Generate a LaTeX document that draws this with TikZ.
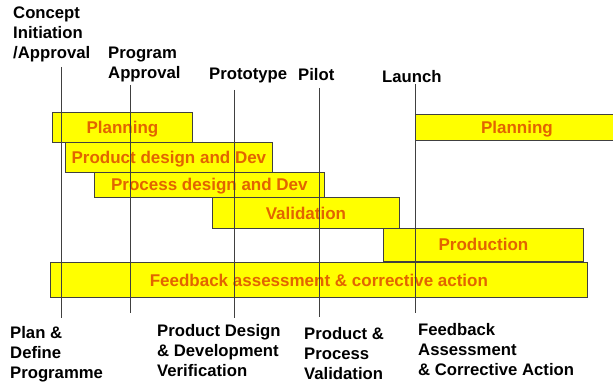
\documentclass[tikz,border=0pt]{standalone}
\usepackage{fontspec}
\setmainfont{Liberation Sans}
\definecolor{barfill}{RGB}{255,255,0}
\definecolor{bartext}{RGB}{226,100,0}
\definecolor{lineg}{RGB}{64,64,64}
\tikzset{
  phase/.style={draw=lineg, line width=0.8pt, fill=barfill, anchor=north west,
    inner sep=0pt, text=bartext, font=\fontsize{17}{20}\selectfont\bfseries,
    text height=12.2pt, text depth=0pt},
  gate/.style={anchor=base west, inner sep=0pt, align=left,
    font=\fontsize{16.7}{20}\selectfont\bfseries},
  tick/.style={draw=lineg, line width=0.8pt}
}
\begin{document}
\begin{tikzpicture}[x=1pt,y=-1pt]

	\useasboundingbox (0,0) rectangle (613,382);
	\clip (0,0) rectangle (613,382);

            % bars
            \node[phase, minimum width=140pt, minimum height=30pt] (plan) at (52,112) {Planning};
            \node[phase, minimum width=207pt, minimum height=30pt] (prod) at (65,142) {Product design and Dev};
            \node[phase, minimum width=230pt, minimum height=25pt] (proc) at (94,172) {Process design and Dev};
            \node[phase, minimum width=187pt, minimum height=31pt] (valid) at (212,197) {Validation};
            \node[phase, minimum width=200pt, minimum height=33pt] (prodn) at (383,228) {Production};
            \node[phase, minimum width=537pt, minimum height=35pt] (fback) at (50,262) {Feedback assessment \& corrective action};
            \node[phase, minimum width=203pt, minimum height=26pt] (plan2) at (415,114) {Planning};

            % gate labels, top (anchored on the last line)
            \node[gate] (concept) at (13,58.5) {Concept\\Initiation\\/Approval};
            \node[gate] (program) at (108,78.5) {Program\\Approval};
            \node[gate] (proto) at (209,80) {Prototype};
            \node[gate] (pilot) at (298,81) {Pilot};
            \node[gate] (launch) at (382,83) {Launch};

            % phase labels, bottom
            \node[gate] (define) at (10,378) {Plan \&\\Define\\Programme};
            \node[gate] (verify) at (157,376) {Product Design\\\& Development\\Verification};
            \node[gate] (validate) at (304,379) {Product \&\\Process\\Validation};
            \node[gate] (correct) at (418,375.5) {Feedback\\Assessment\\\& Corrective Action};

            % gate lines
            \coordinate (t1) at (61,67);   \coordinate (b1) at (61,318);
            \coordinate (t2) at (130,85);  \coordinate (b2) at (130,313);
            \coordinate (t3) at (234,90);  \coordinate (b3) at (234,318);
            \coordinate (t4) at (319,88);  \coordinate (b4) at (319,317);
            \coordinate (t5) at (415,84);  \coordinate (b5) at (415,313);

            \foreach \i in {1,...,5}{
              \draw[tick] (t\i) -- (b\i);
            }

        \end{tikzpicture}
\end{document}
